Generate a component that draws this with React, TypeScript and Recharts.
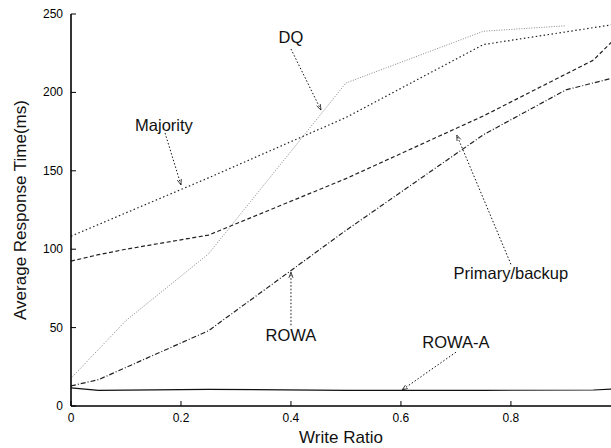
import { LineChart, Line, XAxis, YAxis, ReferenceLine, ReferenceDot, Label } from "recharts";

const xTicks = [0, 0.2, 0.4, 0.6, 0.8];
const yTicks = [0, 50, 100, 150, 200, 250];

const dq = [
  { x: 0, y: 17.7 },
  { x: 0.1, y: 54.5 },
  { x: 0.25, y: 97 },
  { x: 0.5, y: 206 },
  { x: 0.75, y: 239 },
  { x: 0.9, y: 242.5 },
];

const majority = [
  { x: 0, y: 108.3 },
  { x: 0.25, y: 145.5 },
  { x: 0.5, y: 184 },
  { x: 0.75, y: 230.5 },
  { x: 1, y: 244 },
];

const primaryBackup = [
  { x: 0, y: 92.4 },
  { x: 0.05, y: 96.5 },
  { x: 0.1, y: 100 },
  { x: 0.25, y: 109 },
  { x: 0.5, y: 145 },
  { x: 0.75, y: 185 },
  { x: 0.95, y: 220.6 },
  { x: 1, y: 238 },
];

const rowa = [
  { x: 0, y: 12.8 },
  { x: 0.05, y: 16.8 },
  { x: 0.25, y: 48 },
  { x: 0.5, y: 112 },
  { x: 0.75, y: 173 },
  { x: 0.9, y: 201.6 },
  { x: 1, y: 210.5 },
];

const rowaA = [
  { x: 0, y: 11.5 },
  { x: 0.05, y: 10 },
  { x: 0.25, y: 10.6 },
  { x: 0.5, y: 10 },
  { x: 0.75, y: 10 },
  { x: 0.95, y: 10.2 },
  { x: 1, y: 11 },
];

// label text position, then arrow tail -> head (data units)
const notes = [
  { text: "DQ", tx: 0.4, ty: 235.3, ax: 0.4, ay: 227.7, hx: 0.4545, hy: 188.8 },
  { text: "Majority", tx: 0.169, ty: 179.2, ax: 0.171, ay: 174.1, hx: 0.2, hy: 141 },
  { text: "Primary/backup", tx: 0.8, ty: 84.7, ax: 0.8, ay: 90.4, hx: 0.7015, hy: 172.8 },
  { text: "ROWA", tx: 0.4, ty: 45, ax: 0.4, ay: 51.5, hx: 0.4, hy: 85.3 },
  { text: "ROWA-A", tx: 0.7, ty: 40.6, ax: 0.7, ay: 34.3, hx: 0.602, hy: 10.2 },
];

const font = "'Liberation Sans', Arial, Helvetica, sans-serif";

const BottomTick = (props: any) => {
  const { x, y, payload } = props;
  return (
    <g>
      <line x1={x} y1={y} x2={x} y2={y - 5} stroke="#000" strokeWidth={1} />
      <text x={x} y={y + 16} textAnchor="middle" fontSize={12} fill="#000" fontFamily={font}>
        {payload.value}
      </text>
    </g>
  );
};

const TopTick = (props: any) => {
  const { x, y } = props;
  return <line x1={x} y1={y} x2={x} y2={y + 5} stroke="#000" strokeWidth={1} />;
};

const LeftTick = (props: any) => {
  const { x, y, payload } = props;
  return (
    <g>
      <line x1={x} y1={y} x2={x + 5} y2={y} stroke="#000" strokeWidth={1} />
      <text x={x - 8} y={y + 4} textAnchor="end" fontSize={12} fill="#000" fontFamily={font}>
        {payload.value}
      </text>
    </g>
  );
};

const Arrow = (props: any) => {
  const { x1, y1, x2, y2 } = props;
  const ang = Math.atan2(y2 - y1, x2 - x1);
  const len = 6;
  const spread = 0.35;
  const p1x = x2 - len * Math.cos(ang - spread);
  const p1y = y2 - len * Math.sin(ang - spread);
  const p2x = x2 - len * Math.cos(ang + spread);
  const p2y = y2 - len * Math.sin(ang + spread);
  return (
    <g>
      <line x1={x1} y1={y1} x2={x2} y2={y2} stroke="#111" strokeWidth={1} strokeDasharray="1.5 2" />
      <polyline points={`${p1x},${p1y} ${x2},${y2} ${p2x},${p2y}`} fill="none" stroke="#111" strokeWidth={0.8} />
    </g>
  );
};

const NoteText = (text: string) => (props: any) => (
  <text x={props.cx} y={props.cy + 6} textAnchor="middle" fontSize={16.5} fill="#111" fontFamily={font}>
    {text}
  </text>
);

export default function App() {
  return (
    <div style={{ position: "absolute", left: 0, top: 0, background: "#fff", fontFamily: font }}>
      <LineChart width={611} height={448} margin={{ top: 14, right: 0, bottom: 0, left: 0 }}>
        <XAxis
          xAxisId={0}
          dataKey="x"
          type="number"
          domain={[0, 0.982]}
          allowDataOverflow
          ticks={xTicks}
          height={42}
          tickSize={0}
          tickMargin={0}
          tickLine={false}
          tick={<BottomTick />}
          axisLine={{ stroke: "#000", strokeWidth: 1.6 }}
        >
          <Label
            content={(p: any) => (
              <text
                x={p.viewBox.x + p.viewBox.width / 2}
                y={p.viewBox.y + 37}
                textAnchor="middle"
                fontSize={17}
                fill="#111"
                fontFamily={font}
              >
                Write Ratio
              </text>
            )}
          />
        </XAxis>
        <XAxis
          xAxisId="top"
          orientation="top"
          dataKey="x"
          type="number"
          domain={[0, 0.982]}
          allowDataOverflow
          ticks={xTicks.slice(1)}
          height={0}
          tickSize={0}
          tickMargin={0}
          tickLine={false}
          tick={<TopTick />}
          axisLine={{ stroke: "#000", strokeWidth: 1.6 }}
        />
        <YAxis
          type="number"
          domain={[0, 250]}
          ticks={yTicks}
          width={71}
          tickSize={0}
          tickMargin={0}
          tickLine={false}
          tick={<LeftTick />}
          axisLine={{ stroke: "#000", strokeWidth: 1.6 }}
        >
          <Label
            content={(p: any) => {
              const cx = 20;
              const cy = p.viewBox.y + p.viewBox.height / 2;
              return (
                <text
                  x={cx}
                  y={cy}
                  transform={`rotate(-90 ${cx} ${cy})`}
                  textAnchor="middle"
                  dominantBaseline="central"
                  fontSize={17}
                  fill="#111"
                  fontFamily={font}
                >
                  Average Response Time(ms)
                </text>
              );
            }}
          />
        </YAxis>

        <Line data={dq} dataKey="y" type="linear" dot={false} stroke="#888" strokeWidth={1} strokeDasharray="1 1.5" isAnimationActive={false} />
        <Line data={majority} dataKey="y" type="linear" dot={false} stroke="#222" strokeWidth={1.2} strokeDasharray="1.5 2.5" isAnimationActive={false} />
        <Line data={primaryBackup} dataKey="y" type="linear" dot={false} stroke="#222" strokeWidth={1.2} strokeDasharray="4 2.5" isAnimationActive={false} />
        <Line data={rowa} dataKey="y" type="linear" dot={false} stroke="#222" strokeWidth={1.2} strokeDasharray="5 2 1 2" isAnimationActive={false} />
        <Line data={rowaA} dataKey="y" type="linear" dot={false} stroke="#111" strokeWidth={1.2} isAnimationActive={false} />

        {notes.map((n) => (
          <ReferenceLine
            key={"a" + n.text}
            segment={[{ x: n.ax, y: n.ay }, { x: n.hx, y: n.hy }]}
            shape={Arrow}
            ifOverflow="visible"
          />
        ))}
        {notes.map((n) => (
          <ReferenceDot key={"t" + n.text} x={n.tx} y={n.ty} r={0} shape={NoteText(n.text)} ifOverflow="visible" />
        ))}
      </LineChart>
    </div>
  );
}
